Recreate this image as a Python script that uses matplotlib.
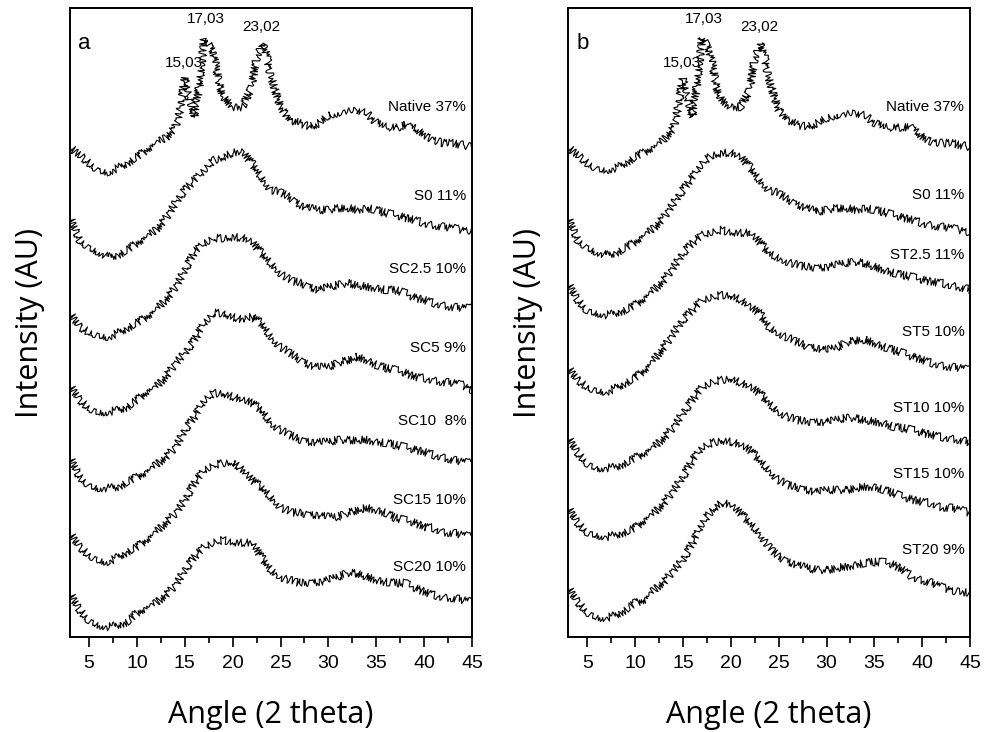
import matplotlib
matplotlib.use("Agg")
import numpy as np
from matplotlib import pyplot as plt
from matplotlib.ticker import MultipleLocator

# angle grid (2 theta)
angles = list(range(3, 46))
angles_native = list(range(3, 15)) + [14.5, 15, 15.5, 16, 16.5, 17, 17.5, 18, 18.5, 19] + \
    [20, 21, 22, 22.5, 23, 23.5] + list(range(24, 46))

# panel a
native_a = [490, 482, 474, 467, 465, 469, 474, 480, 487, 494, 499, 510,
            527, 559, 540, 520, 550, 597, 594, 584, 557, 540,
            530, 530, 550, 580, 594, 584, 560, 530, 517, 514, 510, 514, 522, 524,
            525, 527, 524, 514, 510, 509, 512, 509, 502, 497, 494, 494, 492, 490]
s0_a = [420, 397, 390, 385, 380, 382, 387, 394, 400, 407, 419, 434, 447, 457, 467,
        477, 480, 484, 485, 474, 460, 447, 445, 439, 432, 429, 427, 427, 429, 429,
        427, 429, 427, 424, 422, 419, 417, 414, 412, 410, 409, 407, 407]
sc25 = [324, 310, 305, 302, 300, 304, 309, 314, 320, 327, 337, 350, 367, 385, 394,
        399, 399, 400, 399, 395, 384, 374, 364, 357, 354, 350, 347, 350, 352, 354,
        352, 350, 349, 347, 347, 344, 339, 337, 334, 332, 330, 329, 329]
sc5 = [252, 237, 229, 225, 225, 227, 230, 237, 245, 250, 260, 274, 284, 297, 314,
       324, 324, 320, 317, 320, 314, 300, 290, 284, 277, 272, 270, 270, 274, 277,
       280, 277, 272, 269, 267, 264, 260, 259, 257, 255, 254, 252, 247]
sc10 = [180, 160, 152, 149, 149, 150, 155, 160, 165, 172, 180, 190, 207, 220, 237,
        244, 244, 240, 237, 234, 227, 214, 207, 202, 197, 195, 195, 195, 197, 197,
        197, 197, 195, 194, 192, 190, 187, 185, 182, 180, 177, 175, 174]
sc15 = [104, 90, 82, 77, 75, 80, 85, 90, 97, 105, 114, 124, 137, 154, 167,
        172, 174, 175, 167, 157, 150, 140, 130, 125, 124, 122, 122, 120, 120, 124,
        127, 129, 127, 124, 119, 117, 114, 110, 109, 105, 104, 102, 100]
sc20 = [44, 27, 17, 12, 10, 12, 15, 24, 29, 34, 42, 52, 67, 80, 90,
        95, 97, 95, 94, 94, 80, 67, 60, 57, 54, 54, 55, 57, 60, 64,
        64, 60, 57, 55, 54, 54, 49, 45, 42, 40, 39, 37, 35]

# panel b
native_b = [490, 482, 474, 469, 467, 469, 474, 480, 485, 490, 497, 509,
            530, 559, 540, 520, 554, 599, 594, 577, 550, 537,
            530, 530, 547, 580, 594, 582, 557, 527, 517, 512, 510, 514, 519, 522,
            522, 524, 522, 514, 510, 509, 510, 509, 500, 495, 494, 494, 492, 490]
s0_b = [420, 397, 390, 385, 382, 384, 389, 395, 402, 409, 420, 434, 447, 460, 474,
        482, 484, 484, 480, 470, 457, 447, 444, 437, 432, 429, 425, 427, 429, 429,
        427, 429, 427, 425, 422, 419, 417, 414, 412, 410, 409, 407, 405]
st25 = [354, 337, 327, 324, 322, 324, 327, 332, 339, 347, 357, 370, 384, 394, 402,
        405, 407, 405, 404, 404, 395, 384, 379, 375, 372, 370, 369, 370, 372, 374,
        375, 374, 370, 367, 364, 362, 360, 357, 355, 354, 352, 350, 347]
st5 = [270, 257, 250, 247, 245, 249, 254, 259, 267, 277, 290, 304, 317, 327, 337,
       340, 342, 342, 337, 330, 324, 310, 304, 299, 295, 290, 289, 287, 289, 294,
       297, 297, 294, 290, 287, 284, 280, 277, 274, 272, 270, 269, 267]
st10 = [200, 184, 174, 169, 169, 170, 174, 179, 184, 190, 199, 210, 224, 237, 250,
        255, 257, 259, 254, 250, 244, 234, 225, 220, 217, 215, 215, 215, 217, 219,
        219, 217, 215, 214, 210, 209, 207, 204, 202, 200, 199, 197, 194]
st15 = [130, 114, 105, 102, 100, 102, 105, 109, 117, 124, 134, 147, 160, 177, 190,
        194, 197, 195, 192, 187, 177, 167, 157, 152, 149, 147, 145, 147, 147, 147,
        149, 150, 150, 147, 144, 140, 137, 135, 134, 130, 129, 127, 124]
st20 = [50, 35, 25, 20, 19, 22, 27, 34, 37, 47, 55, 67, 77, 94, 114,
        127, 134, 132, 124, 114, 104, 90, 80, 75, 72, 69, 67, 67, 69, 70,
        72, 74, 75, 75, 72, 67, 60, 57, 54, 50, 47, 45, 44]

labels_a = ["Native 37%", "S0 11%", "SC2.5 10%", "SC5 9%", "SC10  8%", "SC15 10%", "SC20 10%"]
label_y_a = [530, 441, 368, 289, 216, 137, 70]
labels_b = ["Native 37%", "S0 11%", "ST2.5 11%", "ST5 10%", "ST10 10%", "ST15 10%", "ST20 9%"]
label_y_b = [530, 442, 382, 305, 229, 163, 87]

peak_labels = ["15,03", "17,03", "23,02"]
peak_x = [14.9, 17.2, 23.0]
peak_y = [574, 618, 610]

fig = plt.figure(figsize=(9.91, 7.32), dpi=100)
ax_a = fig.add_axes([0.0706, 0.1298, 0.4057, 0.8592])
ax_b = fig.add_axes([0.5732, 0.1298, 0.4057, 0.8592])

tick_font = ["Liberation Sans Narrow", "Liberation Sans", "DejaVu Sans"]
label_font = ["Open Sans", "DejaVu Sans"]
name_font = ["Liberation Sans", "DejaVu Sans"]

panels = [
    (ax_a, "a", [native_a, s0_a, sc25, sc5, sc10, sc15, sc20], labels_a, label_y_a),
    (ax_b, "b", [native_b, s0_b, st25, st5, st10, st15, st20], labels_b, label_y_b),
]

for ax, letter, traces, names, name_y in panels:
    for i, tr in enumerate(traces):
        xs = angles_native if i == 0 else angles
        line, = ax.plot(xs, tr, color="black", lw=0.8)
        # jagged look of the raw counts
        line.set_sketch_params(scale=4, length=0.1, randomness=1.2)
    for name, yy in zip(names, name_y):
        ax.text(44.4, yy, name, ha="right", va="center", fontsize=11, family=name_font)
    for lab, px, py in zip(peak_labels, peak_x, peak_y):
        ax.text(px, py, lab, ha="center", va="center", fontsize=11, family=name_font)
    ax.text(4.5, 594, letter, ha="center", va="center", fontsize=16, family=name_font)

    ax.set_xlim(3, 45)
    ax.set_ylim(0, 629)
    ax.xaxis.set_major_locator(MultipleLocator(5))
    ax.xaxis.set_minor_locator(MultipleLocator(2.5))
    ax.tick_params(axis="x", which="major", direction="out", length=7, width=1.2, pad=6)
    ax.tick_params(axis="x", which="minor", direction="out", length=4, width=1.2)
    ax.set_yticks([])
    for lab in ax.get_xticklabels():
        lab.set_family(tick_font)
        lab.set_fontsize(14)
    for sp in ax.spines.values():
        sp.set_linewidth(1.4)
    ax.set_xlabel("Angle (2 theta)", fontsize=22, family=label_font, labelpad=20)
    ax.set_ylabel("Intensity (AU)", fontsize=22, family=label_font, labelpad=18)

fig.savefig("out.png", dpi=100)
